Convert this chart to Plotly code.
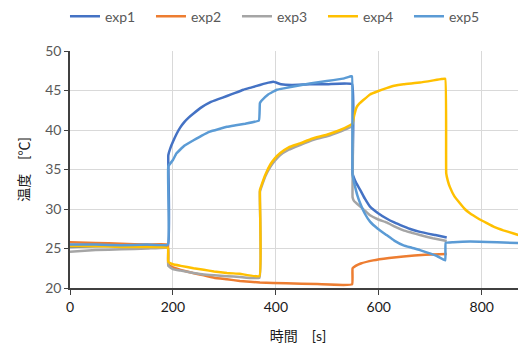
import plotly.graph_objects as go

# ---- data ----
exp1_x = [0, 50, 100, 150, 190, 191, 195, 200, 207, 214, 222, 231, 240, 256, 272, 288, 305, 321, 337, 353, 369, 380, 395, 410, 430, 466, 500, 548, 549, 552, 556, 564, 573, 583, 598, 615, 630, 648, 664, 680, 710, 732]
exp1_y = [25.2, 25.3, 25.3, 25.3, 25.3, 36.8, 37.7, 38.5, 39.5, 40.3, 41.0, 41.6, 42.1, 42.9, 43.5, 43.9, 44.3, 44.7, 45.1, 45.4, 45.7, 45.9, 46.1, 45.8, 45.7, 45.8, 45.8, 45.8, 34.5, 33.9, 33.3, 32.4, 31.3, 30.3, 29.5, 28.8, 28.3, 27.8, 27.4, 27.1, 26.7, 26.4]

exp2_x = [0, 50, 100, 150, 190, 191, 200, 215, 239, 260, 280, 305, 330, 369, 420, 480, 548, 549, 555, 565, 589, 620, 648, 690, 732]
exp2_y = [25.8, 25.7, 25.6, 25.5, 25.5, 23.0, 22.6, 22.3, 21.9, 21.6, 21.3, 21.1, 20.9, 20.7, 20.6, 20.5, 20.45, 22.5, 22.8, 23.1, 23.5, 23.8, 24.0, 24.2, 24.3]

exp3_x = [0, 50, 100, 150, 190, 191, 200, 215, 240, 260, 280, 305, 330, 368, 369, 372, 380, 389, 398, 408, 425, 447, 470, 499, 525, 548, 549, 552, 557, 564, 573, 583, 598, 615, 630, 648, 664, 680, 705, 732]
exp3_y = [24.6, 24.8, 24.9, 25.0, 25.05, 22.8, 22.4, 22.2, 21.9, 21.7, 21.6, 21.5, 21.4, 21.3, 32.2, 32.8, 34.2, 35.3, 36.1, 36.8, 37.5, 38.1, 38.7, 39.2, 39.8, 40.4, 31.5, 31.0, 30.7, 30.3, 29.8, 29.2, 28.7, 28.3, 27.8, 27.3, 27.0, 26.7, 26.3, 25.95]

exp4_x = [0, 50, 100, 150, 190, 191, 200, 215, 240, 260, 280, 305, 330, 368, 369, 372, 380, 389, 398, 408, 425, 447, 470, 499, 525, 544, 549, 552, 557, 563, 570, 583, 598, 615, 630, 648, 680, 722, 729, 731, 734, 738, 747, 758, 767, 777, 793, 810, 825, 842, 862, 886]
exp4_y = [25.3, 25.3, 25.2, 25.2, 25.1, 23.3, 23.0, 22.8, 22.5, 22.3, 22.1, 21.9, 21.8, 21.5, 32.4, 33.0, 34.4, 35.6, 36.4, 37.05, 37.8, 38.3, 38.9, 39.4, 40.0, 40.6, 40.8, 41.8, 42.9, 43.4, 43.8, 44.5, 44.9, 45.3, 45.6, 45.8, 46.0, 46.45, 46.5, 34.5, 33.6, 32.8, 31.6, 30.7, 30.0, 29.45, 28.8, 28.2, 27.7, 27.3, 26.9, 26.4]

exp5_x = [0, 50, 100, 150, 190, 191, 200, 207, 222, 240, 256, 272, 288, 305, 322, 340, 367, 369, 372, 385, 402, 418, 434, 466, 499, 530, 546, 548, 549, 554, 558, 564, 573, 583, 598, 615, 630, 648, 664, 680, 713, 729, 730, 745, 777, 830, 886]
exp5_y = [25.5, 25.5, 25.4, 25.5, 25.5, 35.4, 36.2, 37.05, 38.0, 38.7, 39.3, 39.8, 40.1, 40.4, 40.6, 40.8, 41.2, 43.4, 43.7, 44.5, 45.1, 45.3, 45.5, 45.9, 46.2, 46.5, 46.8, 46.8, 34.3, 32.8, 31.8, 30.7, 29.4, 28.4, 27.5, 26.7, 26.0, 25.4, 25.1, 24.8, 24.05, 23.5, 25.7, 25.8, 25.9, 25.8, 25.65]

names = ["exp1", "exp2", "exp3", "exp4", "exp5"]
colors = ["#4472C4", "#ED7D31", "#A5A5A5", "#FFC000", "#5B9BD5"]
xs = [exp1_x, exp2_x, exp3_x, exp4_x, exp5_x]
ys = [exp1_y, exp2_y, exp3_y, exp4_y, exp5_y]

x_ticks = [0, 200, 400, 600, 800]
y_ticks = [20, 25, 30, 35, 40, 45, 50]

FONT = "Lato, 'Noto Sans CJK JP', sans-serif"

fig = go.Figure()
for n, c, x, y in zip(names, colors, xs, ys):
    fig.add_trace(go.Scatter(x=x, y=y, mode="lines", name=n,
                             line=dict(color=c, width=2.5, shape="spline", smoothing=0.3)))

# page body has an 8px margin: figure drawn 518x339 so that it fills the window
fig.update_layout(
    width=518, height=339,
    margin=dict(l=62, r=0, t=43, b=59, autoexpand=False),
    paper_bgcolor="white", plot_bgcolor="white",
    font=dict(family=FONT, size=14, color="#595959"),
    showlegend=True,
    legend=dict(orientation="h", x=-0.011, xanchor="left", y=1.145, yanchor="middle",
                font=dict(size=14, color="#595959"), bgcolor="rgba(0,0,0,0)",
                entrywidth=41, entrywidthmode="pixels", itemwidth=30, tracegroupgap=0),
)
fig.update_xaxes(
    range=[0, 886], tickvals=x_ticks, ticktext=[str(v) for v in x_ticks],
    showgrid=True, gridcolor="#D9D9D9", gridwidth=1,
    showline=True, linecolor="#404040", linewidth=1.5,
    ticks="outside", ticklen=5, tickcolor="#404040",
    tickfont=dict(size=14, color="#1a1a1a"),
    title=dict(text="時間　[s]", font=dict(size=14, color="#1a1a1a"), standoff=18),
    zeroline=False, automargin=False,
)
fig.update_yaxes(
    range=[20, 50], tickvals=y_ticks, ticktext=[str(v) for v in y_ticks],
    showgrid=True, gridcolor="#D9D9D9", gridwidth=1,
    showline=True, linecolor="#404040", linewidth=1.5,
    ticks="outside", ticklen=4, tickcolor="#404040",
    tickfont=dict(size=14, color="#595959"),
    title=dict(text="温度　[℃]", font=dict(size=14, color="#1a1a1a"), standoff=12),
    zeroline=False, automargin=False,
)

fig.write_html("out.html")
